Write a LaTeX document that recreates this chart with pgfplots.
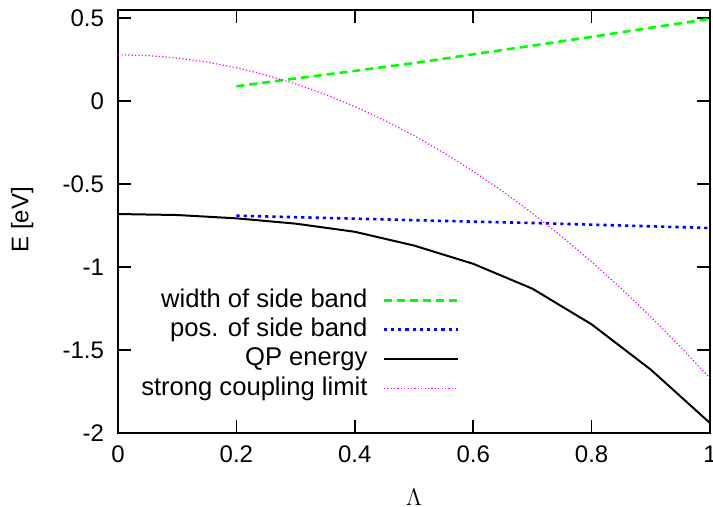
\documentclass[border=0pt]{standalone}
\usepackage{fontspec}
\setmainfont{Liberation Sans}
\usepackage{pgfplots}
\pgfplotsset{compat=1.18}
\definecolor{cgreen}{RGB}{0,255,0}
\definecolor{cblue}{RGB}{0,0,255}
\definecolor{cmag}{RGB}{255,0,255}
\begin{document}
\begin{tikzpicture}
\begin{axis}[
  width=296pt, height=211.5pt, scale only axis,
  xmin=0, xmax=1, ymin=-2, ymax=0.55,
  xtick={0,0.2,0.4,0.6,0.8,1},
  xticklabels={0,0.2,0.4,0.6,0.8,1},
  ytick={-2,-1.5,-1,-0.5,0,0.5},
  yticklabels={-2,-1.5,-1,-0.5,0,0.5},
  tick align=inside,
  major tick length=6.5pt,
  axis line style={line width=1pt},
  every tick/.style={line width=0.8pt, black},
  tick label style={font=\fontsize{12}{14}\selectfont},
  xticklabel style={yshift=-3pt},
  yticklabel style={xshift=-3.5pt},
  label style={font=\fontsize{12}{14}\selectfont},
  xlabel={$\Lambda$},
  ylabel={E [eV]},
  xlabel style={at={(axis description cs:0.5,-0.153)}, anchor=center},
  ylabel style={at={(axis description cs:-0.162,0.504)}, anchor=center},
  legend cell align=right,
  legend plot pos=right,
  legend image code/.code={\draw[#1] (0pt,0pt) -- (37pt,0pt);},
  legend style={draw=none, fill=none, at={(0.587,0.358)}, anchor=north east,
    font=\fontsize{12.8}{15}\selectfont, column sep=6.5pt, row sep=0pt,
    nodes={inner sep=1pt, text height=9.8pt, text depth=2.8pt}},
]
\addplot[cgreen, line width=1.3pt, dash pattern=on 4pt off 2.5pt] coordinates {
(0.2,0.09) (0.3,0.137) (0.4,0.183) (0.5,0.23) (0.6,0.283) (0.7,0.335) (0.8,0.388) (0.9,0.443) (1.0,0.497)};
\addlegendentry{width of side band}
\addplot[cblue, line width=1.3pt, dash pattern=on 1.6pt off 2pt] coordinates {
(0.2,-0.69) (0.3,-0.699) (0.4,-0.708) (0.5,-0.717) (0.6,-0.726) (0.7,-0.734) (0.8,-0.744) (0.9,-0.754) (1.0,-0.764)};
\addlegendentry{pos. of side band}
\addplot[black, line width=1pt] coordinates {
(0,-0.68) (0.1,-0.686) (0.2,-0.706) (0.3,-0.738) (0.4,-0.787) (0.5,-0.87) (0.6,-0.98) (0.7,-1.13) (0.8,-1.345) (0.9,-1.618) (1.0,-1.94)};
\addlegendentry{QP energy}
\addplot[cmag, line width=0.6pt, dash pattern=on 0.6pt off 1.1pt] coordinates {
(0,0.28) (0.05,0.2751) (0.1,0.2605) (0.15,0.2361) (0.2,0.202) (0.25,0.1581) (0.3,0.1045) (0.35,0.0411) (0.4,-0.032) (0.45,-0.1149) (0.5,-0.2075) (0.55,-0.3099) (0.6,-0.422) (0.65,-0.5439) (0.7,-0.6755) (0.75,-0.8169) (0.8,-0.968) (0.85,-1.1289) (0.9,-1.2995) (0.95,-1.4799) (1.0,-1.67)};
\addlegendentry{strong coupling limit}
\end{axis}
\pgfresetboundingbox
\path ([xshift=-59pt,yshift=-37pt]current axis.south west) rectangle ([xshift=1.5pt,yshift=5pt]current axis.north east);
\end{tikzpicture}
\end{document}
